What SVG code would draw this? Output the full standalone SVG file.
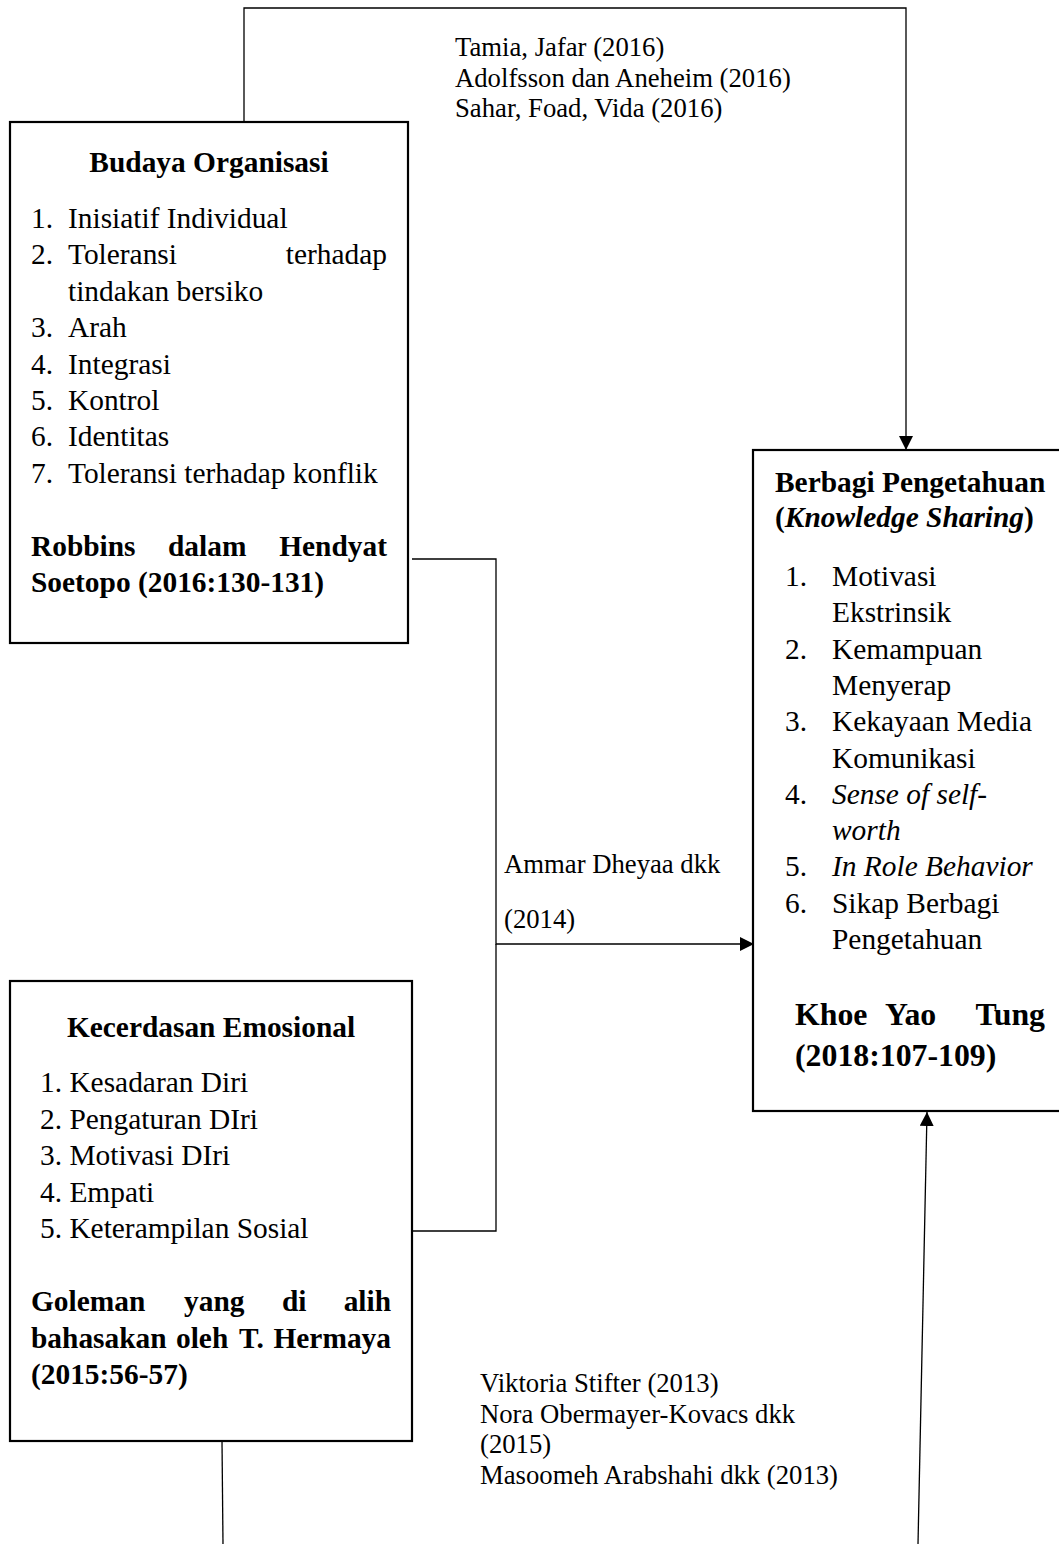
<svg xmlns="http://www.w3.org/2000/svg" width="1059" height="1544" viewBox="0 0 1059 1544">
<style>
text{font-family:"Liberation Serif","Times New Roman",serif;fill:#000}
.b{font-size:29.4px}
.h{font-size:29.4px;font-weight:bold}
.hb{font-size:31.8px;font-weight:bold}
.lab{font-size:26.7px}
.box{fill:#fff;stroke:#000;stroke-width:2.2}
.con{fill:none;stroke:#000;stroke-width:1.3}
.i{font-style:italic}
</style>
<defs>
<marker id="arr" viewBox="0 0 14 14" refX="14" refY="7" markerWidth="14" markerHeight="14" markerUnits="userSpaceOnUse" orient="auto">
<path d="M0,0 L14,7 L0,14 z" fill="#000"/>
</marker>
</defs>
<rect width="1059" height="1544" fill="#fff"/>

<g id="connectors">
<polyline class="con" points="244,122 244,8 906,8 906,450" marker-end="url(#arr)"/>
<polyline class="con" points="412,559 496,559 496,944 754,944" marker-end="url(#arr)"/>
<polyline class="con" points="413,1231 496,1231 496,944"/>
<line class="con" x1="222" y1="1441" x2="223" y2="1544"/>
<line class="con" x1="918" y1="1544" x2="927" y2="1112" marker-end="url(#arr)"/>
</g>

<g id="labels">
<text class="lab" x="455" y="56">Tamia, Jafar (2016)</text>
<text class="lab" x="455" y="87">Adolfsson dan Aneheim (2016)</text>
<text class="lab" x="455" y="117">Sahar, Foad, Vida (2016)</text>
<text class="lab" x="504" y="873">Ammar Dheyaa dkk</text>
<text class="lab" x="504" y="928">(2014)</text>
<text class="lab" x="480" y="1392">Viktoria Stifter (2013)</text>
<text class="lab" x="480" y="1423">Nora Obermayer-Kovacs dkk</text>
<text class="lab" x="480" y="1453">(2015)</text>
<text class="lab" x="480" y="1484">Masoomeh Arabshahi dkk (2013)</text>
</g>

<g id="budaya-organisasi">
<rect class="box" x="10" y="122" width="398" height="521"/>
<text class="h" x="209" y="172" text-anchor="middle">Budaya Organisasi</text>
<text class="b" x="31" y="228">1.</text><text class="b" x="68" y="228">Inisiatif Individual</text>
<text class="b" x="31" y="264.4">2.</text><text class="b" x="68" y="264.4">Toleransi</text><text class="b" x="387" y="264.4" text-anchor="end">terhadap</text>
<text class="b" x="68" y="300.8">tindakan bersiko</text>
<text class="b" x="31" y="337.2">3.</text><text class="b" x="68" y="337.2">Arah</text>
<text class="b" x="31" y="373.6">4.</text><text class="b" x="68" y="373.6">Integrasi</text>
<text class="b" x="31" y="410">5.</text><text class="b" x="68" y="410">Kontrol</text>
<text class="b" x="31" y="446.4">6.</text><text class="b" x="68" y="446.4">Identitas</text>
<text class="b" x="31" y="482.8">7.</text><text class="b" x="68" y="482.8">Toleransi terhadap konflik</text>
<text class="h" x="31" y="556">Robbins</text><text class="h" x="168" y="556">dalam</text><text class="h" x="387" y="556" text-anchor="end">Hendyat</text>
<text class="h" x="31" y="592">Soetopo (2016:130-131)</text>
</g>

<g id="kecerdasan-emosional">
<rect class="box" x="10" y="981" width="402" height="460"/>
<text class="h" x="211" y="1037" text-anchor="middle">Kecerdasan Emosional</text>
<text class="b" x="40" y="1092">1. Kesadaran Diri</text>
<text class="b" x="40" y="1128.5">2. Pengaturan DIri</text>
<text class="b" x="40" y="1165">3. Motivasi DIri</text>
<text class="b" x="40" y="1201.5">4. Empati</text>
<text class="b" x="40" y="1238">5. Keterampilan Sosial</text>
<text class="h" x="31" y="1311">Goleman</text><text class="h" x="184" y="1311">yang</text><text class="h" x="282" y="1311">di</text><text class="h" x="391" y="1311" text-anchor="end">alih</text>
<text class="h" x="31" y="1348">bahasakan</text><text class="h" x="176" y="1348">oleh</text><text class="h" x="239" y="1348">T.</text><text class="h" x="391" y="1348" text-anchor="end">Hermaya</text>
<text class="h" x="31" y="1384">(2015:56-57)</text>
</g>

<g id="berbagi-pengetahuan">
<rect class="box" x="753" y="450" width="330" height="661"/>
<text class="h" x="775" y="492">Berbagi Pengetahuan</text>
<text class="h" x="775" y="527">(<tspan class="i">Knowledge Sharing</tspan>)</text>
<text class="b" x="785" y="586">1.</text><text class="b" x="832" y="586">Motivasi</text>
<text class="b" x="832" y="622.3">Ekstrinsik</text>
<text class="b" x="785" y="658.6">2.</text><text class="b" x="832" y="658.6">Kemampuan</text>
<text class="b" x="832" y="694.9">Menyerap</text>
<text class="b" x="785" y="731.2">3.</text><text class="b" x="832" y="731.2">Kekayaan Media</text>
<text class="b" x="832" y="767.5">Komunikasi</text>
<text class="b" x="785" y="803.8">4.</text><text class="b i" x="832" y="803.8">Sense of self-</text>
<text class="b i" x="832" y="840.1">worth</text>
<text class="b" x="785" y="876.4">5.</text><text class="b i" x="832" y="876.4">In Role Behavior</text>
<text class="b" x="785" y="912.7">6.</text><text class="b" x="832" y="912.7">Sikap Berbagi</text>
<text class="b" x="832" y="949">Pengetahuan</text>
<text class="hb" x="795" y="1025">Khoe</text><text class="hb" x="885" y="1025">Yao</text><text class="hb" x="1045" y="1025" text-anchor="end">Tung</text>
<text class="hb" x="795" y="1066">(2018:107-109)</text>
</g>
</svg>
